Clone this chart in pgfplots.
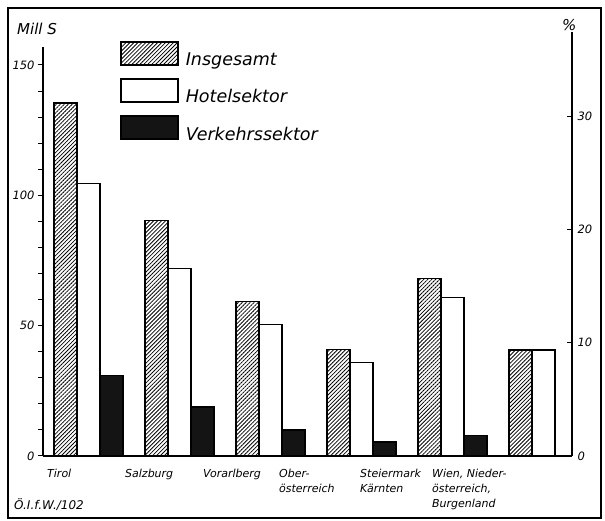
\documentclass[border=0pt]{standalone}
\usepackage{pgfplots}
\pgfplotsset{compat=1.18}
\usetikzlibrary{patterns.meta}
\usepackage{fontspec}
\setmainfont{DejaVu Sans}
\begin{document}
\begin{tikzpicture}[font=\itshape]
\useasboundingbox (-43pt,-65pt) rectangle (562pt,456pt);
\draw[line width=2pt] (-35pt,-62pt) rectangle (558pt,448pt);
\begin{axis}[
  at={(0pt,0pt)}, anchor=south west,
  scale only axis, width=529pt, height=409.3pt,
  xmin=-0.5, xmax=5.31, ymin=0, ymax=157,
  axis x line*=bottom, axis y line*=left,
  axis line style={line width=1.5pt},
  /pgf/number format/assume math mode=true,
  ytick={0,50,100,150},
  yticklabel={\itshape\pgfmathprintnumber{\tick}},
  minor ytick={10,20,30,40,60,70,80,90,110,120,130,140},
  tick align=outside,
  major tick length=5pt, minor tick length=5pt,
  y tick style={line width=1pt, black},
  y tick label style={font=\itshape\fontsize{11.5}{11.5}\selectfont},
  xtick={-0.456,0.4006,1.257,2.092,2.982,3.772},
  xticklabels={Tirol,Salzburg,Vorarlberg,{Ober-\\österreich},{Steiermark\\Kärnten},{Wien, Nieder-\\österreich,\\Burgenland}},
  x tick style={draw=none},
  major x tick style={draw=none},
  x tick label style={anchor=north west, align=left, inner sep=0pt, yshift=-8pt,
    font=\itshape\fontsize{11}{15}\selectfont},
  legend style={at={(0.1456,1.0139)}, anchor=north west, draw=none, fill=none,
    inner sep=0pt, row sep=9pt, column sep=5pt,
    font=\itshape\fontsize{17.5}{17.5}\selectfont},
  legend cell align=left,
  legend image code/.code={\draw[#1,line width=1.6pt] (0pt,-5pt) rectangle (57pt,18pt);},
]
\addplot[ybar, bar width=0.2526, bar shift=-0.2526, draw=black, line width=1.6pt,
  pattern={Lines[angle=45,distance=2.8pt,line width=0.8pt]}]
  coordinates {(0,135.5) (1,90.3) (2,59.3) (3,40.9) (4,68.1) (5,40.6)};
\addplot[ybar, bar width=0.2526, bar shift=0, draw=black, line width=1.6pt, fill=white]
  coordinates {(0,104.5) (1,71.9) (2,50.4) (3,35.9) (4,60.8) (5,40.6)};
\addplot[ybar, bar width=0.2526, bar shift=0.2526, draw=black, line width=1.6pt, fill=black!92]
  coordinates {(0,30.9) (1,18.7) (2,9.9) (3,5.3) (4,7.9)};
\legend{Insgesamt, Hotelsektor, Verkehrssektor}
\end{axis}
\begin{axis}[
  at={(0pt,0pt)}, anchor=south west, clip=false,
  scale only axis, width=529pt, height=424pt,
  xmin=-0.5, xmax=5.31, ymin=0, ymax=37.42,
  axis x line=none, axis y line*=right,
  axis line style={line width=1.5pt},
  /pgf/number format/assume math mode=true,
  ytick={0,10,20,30},
  yticklabel={\itshape\pgfmathprintnumber{\tick}},
  tick align=inside, major tick length=5pt,
  y tick style={line width=1pt, black},
  y tick label style={font=\itshape\fontsize{11.5}{11.5}\selectfont, xshift=2pt},
]
\node[anchor=south, font=\itshape\fontsize{15}{15}\selectfont, inner sep=1pt] at (rel axis cs:0.995,1) {\%};
\end{axis}
\node[anchor=base west, font=\itshape\fontsize{15}{15}\selectfont, inner sep=0pt] at (-26pt,421pt) {Mill S};
\node[anchor=base west, font=\itshape\fontsize{12}{12}\selectfont, inner sep=0pt] at (-29pt,-54pt) {Ö.I.f.W./102};
\end{tikzpicture}
\end{document}
